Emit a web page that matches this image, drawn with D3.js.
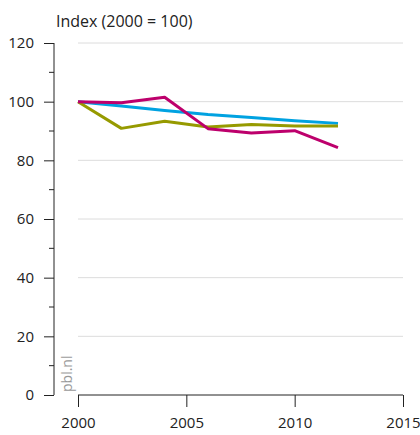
<!DOCTYPE html>
<html>
<head>
<meta charset="utf-8">
<script src="https://cdn.jsdelivr.net/npm/d3@7"></script>
<style>
  html, body { margin: 0; padding: 0; background: #fff; }
  svg { display: block; font-family: "Open Sans", sans-serif; }
</style>
</head>
<body>
<div id="chart"></div>
<script>
const years = [2000, 2002, 2004, 2006, 2008, 2010, 2012]
const blueValues = [100, 98.5, 97.0, 95.6, 94.6, 93.5, 92.6]
const oliveValues = [100, 90.9, 93.3, 91.4, 92.2, 91.7, 91.7]
const magentaValues = [100, 99.6, 101.5, 90.8, 89.3, 90.1, 84.3]
const xTicks = [2000, 2005, 2010, 2015]
const yTicks = [0, 20, 40, 60, 80, 100, 120]
const yMinorTicks = [10, 30, 50, 70, 90, 110]

const series = [
  { values: blueValues, color: "#00a2e1" },
  { values: oliveValues, color: "#969a00" },
  { values: magentaValues, color: "#bd006c" }
]

const width = 420
const height = 435

const x = d3.scaleLinear().domain([2000, 2015]).range([78, 403])
const y = d3.scaleLinear().domain([0, 120]).range([395, 43])

const svg = d3.select("#chart")
  .append("svg")
  .attr("width", width)
  .attr("height", height)

// Title
svg.append("text")
  .attr("x", 56)
  .attr("y", 27)
  .style("font-size", "16px")
  .style("fill", "#222")
  .text("Index (2000 = 100)")

// Gridlines
svg.append("g")
  .selectAll("line")
  .data(yTicks.filter(d => d > 0))
  .join("line")
  .attr("x1", x(2000))
  .attr("x2", x(2015))
  .attr("y1", d => y(d))
  .attr("y2", d => y(d))
  .attr("stroke", "#dcdcdc")
  .attr("stroke-width", 1)

// Y axis
const yAxis = svg.append("g")
  .attr("transform", "translate(54,0)")
  .call(d3.axisLeft(y).tickValues(yTicks).tickSize(10).tickPadding(10).tickFormat(d3.format("d")))
yAxis.select(".domain").attr("d", `M0,${y(120)}V${y(0)}`).attr("stroke", "#222")
yAxis.selectAll(".tick line").attr("stroke", "#222")
yAxis.selectAll(".tick text")
  .style("font-size", "15px")
  .style("fill", "#222")
  .style("font-family", "'Open Sans', sans-serif")

svg.append("g")
  .attr("transform", "translate(54,0)")
  .selectAll("line")
  .data(yMinorTicks)
  .join("line")
  .attr("x1", -5)
  .attr("x2", 0)
  .attr("y1", d => y(d))
  .attr("y2", d => y(d))
  .attr("stroke", "#222")

// X axis
const xAxis = svg.append("g")
  .attr("transform", `translate(0,${y(0)})`)
  .call(d3.axisBottom(x).tickValues(xTicks).tickSize(12).tickPadding(10).tickFormat(d3.format("d")))
xAxis.select(".domain").attr("d", `M${x(2000)},0H${x(2015)}`).attr("stroke", "#222")
xAxis.selectAll(".tick line").attr("stroke", "#222")
xAxis.selectAll(".tick text")
  .style("font-size", "15px")
  .style("fill", "#222")
  .style("font-family", "'Open Sans', sans-serif")

// Watermark
svg.append("text")
  .attr("transform", `translate(${x(2000) - 6},${y(0) - 3}) rotate(-90)`)
  .style("font-size", "14px")
  .style("fill", "#999")
  .text("pbl.nl")

// Lines
const line = d3.line()
  .x((d, i) => x(years[i]))
  .y(d => y(d))

svg.append("g")
  .selectAll("path")
  .data(series)
  .join("path")
  .attr("d", d => line(d.values))
  .attr("fill", "none")
  .attr("stroke", d => d.color)
  .attr("stroke-width", 3)
  .attr("stroke-linejoin", "round")
</script>
</body>
</html>
